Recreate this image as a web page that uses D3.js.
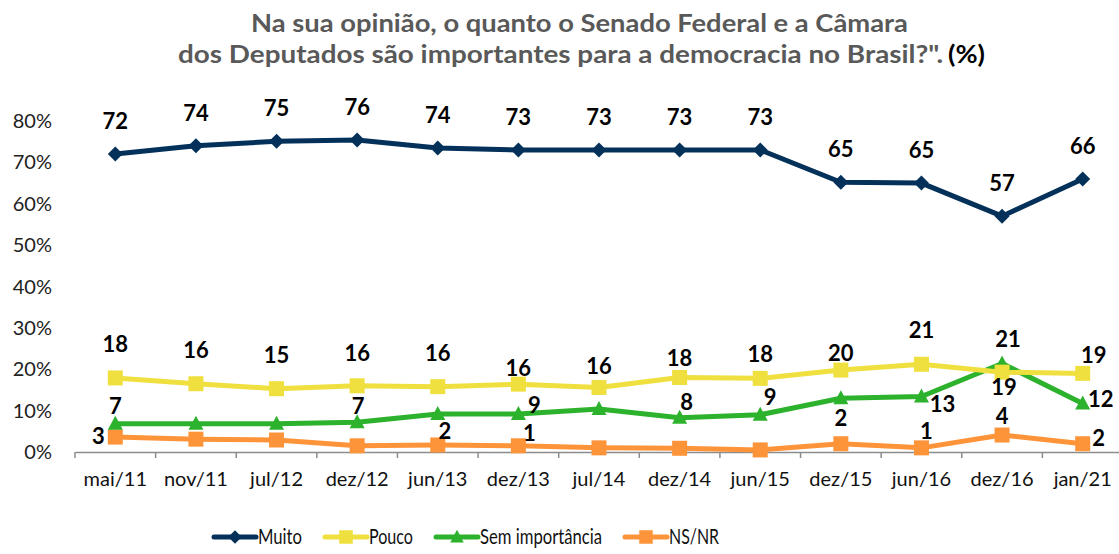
<!DOCTYPE html>
<html>
<head>
<meta charset="utf-8">
<script src="https://cdn.jsdelivr.net/npm/d3@7"></script>
<style>
  html, body { margin: 0; padding: 0; background: #fff; }
  svg { display: block; font-family: Lato, "Open Sans", sans-serif; }
</style>
</head>
<body>
<svg id="chart" width="1119" height="554"></svg>
<script>
// ---- data ----
const categories = ["mai/11","nov/11","jul/12","dez/12","jun/13","dez/13","jul/14","dez/14","jun/15","dez/15","jun/16","dez/16","jan/21"];
const muito = [72, 74, 75.1, 75.4, 73.5, 73, 73, 73, 73, 65.2, 65, 57, 66];
const pouco = [17.9, 16.5, 15.3, 16, 15.8, 16.4, 15.6, 18, 17.8, 19.8, 21.2, 19.3, 19];
const semImportancia = [6.8, 6.8, 6.8, 7.2, 9.2, 9.2, 10.4, 8.3, 9, 13, 13.4, 21.4, 11.7];
const nsnr = [3.6, 3.1, 2.9, 1.5, 1.7, 1.5, 1, 0.9, 0.5, 2, 1, 4.1, 2];
const muitoLabels = ["72","74","75","76","74","73","73","73","73","65","65","57","66"];
const poucoLabels = ["18","16","15","16","16","16","16","18","18","20","21","19","19"];
const semLabels = ["7",null,null,"7",null,"9",null,"8","9",null,"13","21","12"];
const nsnrLabels = ["3",null,null,null,"2","1",null,null,null,"2","1","4","2"];
const seriesNames = ["Muito","Pouco","Sem importância","NS/NR"];
const yTicks = [0, 10, 20, 30, 40, 50, 60, 70, 80];
const titleLine1 = "Na sua opinião, o quanto o Senado Federal e a Câmara";
const titleLine2 = "dos Deputados são importantes para a democracia no Brasil?\".";
const titleSuffix = "(%)";

// ---- label placement (style, offsets from marker) ----
const muitoOff = categories.map(() => [0, -33]);
const poucoOff = [[0,-34],[0,-33],[0,-33],[0,-33],[0,-33],[0,-16],[0,-21],[0,-19],[0,-24],[0,-17],[0,-34],[2,15],[11,-18]];
const semOff = [[0,-18],null,null,[1,-16],null,[16,-9],null,[7,-15],[10,-17],null,[21,8],[6,-24],[18,-4]];
const nsnrOff = [[-17,-1],null,null,null,[7,-14],[11,-12],null,null,null,[0,-25],[5,-17],[0,-19],[16,-5]];
const legendTextWidths = [44, 44, 122, 50];

const series = [
  {name: seriesNames[0], values: muito, labels: muitoLabels, off: muitoOff, color: "#04315a", shape: "diamond"},
  {name: seriesNames[1], values: pouco, labels: poucoLabels, off: poucoOff, color: "#efe03f", shape: "square"},
  {name: seriesNames[2], values: semImportancia, labels: semLabels, off: semOff, color: "#2cb22c", shape: "triangle"},
  {name: seriesNames[3], values: nsnr, labels: nsnrLabels, off: nsnrOff, color: "#fe943a", shape: "square"}
];

const svg = d3.select("#chart");

const x = d3.scaleBand().domain(categories).range([75, 1123]).padding(0);
const y = d3.scaleLinear().domain([0, 80]).range([452, 121]);
const cx = c => x(c) + x.bandwidth() / 2;

// title
const title = svg.append("g").attr("font-weight", "bold").attr("font-size", 25);
title.append("text").attr("x", 251).attr("y", 32).attr("fill", "#595959")
  .attr("textLength", 657).attr("lengthAdjust", "spacingAndGlyphs").text(titleLine1);
title.append("text").attr("x", 178).attr("y", 63).attr("fill", "#595959")
  .attr("textLength", 765).attr("lengthAdjust", "spacingAndGlyphs").text(titleLine2);
title.append("text").attr("x", 948).attr("y", 63).attr("fill", "#000")
  .attr("textLength", 37).attr("lengthAdjust", "spacingAndGlyphs").text(titleSuffix);

// y axis labels
svg.append("g").selectAll("text").data(yTicks).join("text")
  .attr("x", 52).attr("y", d => y(d)).attr("dy", "0.35em")
  .attr("text-anchor", "end").attr("font-size", 20).attr("fill", "#222")
  .text(d => d + "%");

// x axis
const xAxis = d3.axisBottom(x).tickSize(0).tickPadding(0).tickFormat(d => d);
const gx = svg.append("g").attr("transform", `translate(0,${y(0)})`).call(xAxis);
gx.select(".domain").attr("stroke", "#8c8c8c").attr("stroke-width", 1.5);
gx.selectAll(".tick text").attr("font-size", 20).attr("fill", "#111").attr("y", 27).attr("dy", "0.35em")
  .attr("font-family", "Lato, 'Open Sans', sans-serif");
// boundary tick marks
svg.append("g").selectAll("line").data(categories).join("line")
  .attr("x1", d => x(d)).attr("x2", d => x(d))
  .attr("y1", y(0)).attr("y2", y(0) + 6)
  .attr("stroke", "#8c8c8c").attr("stroke-width", 1.5);

// symbols
function drawMarker(sel, shape, color, px, py, scale) {
  const s = scale || 1;
  if (shape === "diamond") {
    sel.append("path").attr("d", `M${px},${py-7.5*s} L${px+7.5*s},${py} L${px},${py+7.5*s} L${px-7.5*s},${py} Z`).attr("fill", color);
  } else if (shape === "square") {
    sel.append("rect").attr("x", px-7.5*s).attr("y", py-7.5*s).attr("width", 15*s).attr("height", 15*s).attr("fill", color);
  } else {
    sel.append("path").attr("d", `M${px},${py-8*s} L${px+7.5*s},${py+6*s} L${px-7.5*s},${py+6*s} Z`).attr("fill", color);
  }
}

const line = d3.line().x((d, i) => cx(categories[i])).y(d => y(d));
const drawOrder = [3, 2, 1, 0];
drawOrder.forEach(k => {
  const s = series[k];
  const g = svg.append("g");
  g.append("path").datum(s.values).attr("d", line).attr("fill", "none")
    .attr("stroke", s.color).attr("stroke-width", 5).attr("stroke-linejoin", "round");
  s.values.forEach((v, i) => drawMarker(g, s.shape, s.color, cx(categories[i]), y(v)));
});
// data labels
series.forEach(s => {
  s.values.forEach((v, i) => {
    if (s.labels[i] == null) return;
    const o = s.off[i];
    svg.append("text").attr("x", cx(categories[i]) + o[0]).attr("y", y(v) + o[1]).attr("dy", "0.35em")
      .attr("text-anchor", "middle").attr("font-weight", "bold").attr("font-size", 22).attr("fill", "#000")
      .text(s.labels[i]);
  });
});

// legend
const leg = svg.append("g").attr("transform", "translate(214,537)");
let lx = 0;
series.forEach((s, k) => {
  const g = leg.append("g").attr("transform", `translate(${lx},0)`);
  g.append("line").attr("x1", 0).attr("x2", 42).attr("y1", 0).attr("y2", 0)
    .attr("stroke", s.color).attr("stroke-width", 5).attr("stroke-linecap", "round");
  drawMarker(g, s.shape, s.color, 21, 0, 0.9);
  g.append("text").attr("x", 44).attr("y", 0).attr("dy", "0.35em")
    .attr("font-size", 21).attr("fill", "#111")
    .attr("textLength", legendTextWidths[k]).attr("lengthAdjust", "spacingAndGlyphs").text(s.name);
  lx += 44 + legendTextWidths[k] + 23;
});
</script>
</body>
</html>
